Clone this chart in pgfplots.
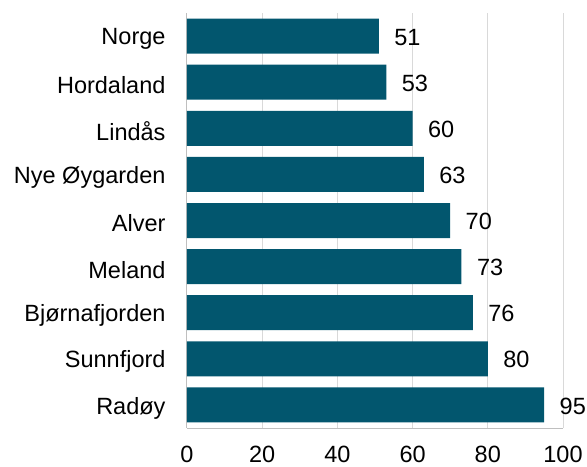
\documentclass[border=0pt]{standalone}
\usepackage{pgfplots}
\pgfplotsset{compat=1.18}
\usepackage{fontspec}
\setmainfont{Liberation Sans}
\definecolor{bar}{RGB}{2,86,110}
\definecolor{gridc}{RGB}{217,217,217}
\definecolor{axc}{RGB}{191,191,191}
\begin{document}
\begin{tikzpicture}
\useasboundingbox (-187bp,-39bp) rectangle (400bp,428bp);
\begin{axis}[
  at={(0,0)}, anchor=south west,
  scale only axis, width=376bp, height=415bp,
  xbar, bar width=35bp,
  xmin=0, xmax=100, ymin=-0.5, ymax=8.5,
  y dir=reverse,
  xtick={0,20,40,60,80,100},
  ytick={0,...,8},
  yticklabels={Norge,Hordaland,Lindås,Nye Øygarden,Alver,Meland,Bjørnafjorden,Sunnfjord,Radøy},
  major tick length=0pt,
  xmajorgrids, grid style={gridc, line width=1pt},
  axis x line*=bottom, axis y line*=left,
  axis line style={-, axc, line width=1pt},
  font=\fontsize{23.5bp}{28bp}\selectfont,
  /pgf/number format/assume math mode=true,
  xticklabel style={yshift=-15bp},
  yticklabel style={xshift=-18bp, yshift=-3bp},
  nodes near coords,
  every node near coord/.append style={anchor=west, xshift=12bp, yshift=-1bp},
  clip=false,
]
\addplot[fill=bar, draw=none] coordinates {
  (51,0) (53,1) (60,2) (63,3) (70,4) (73,5) (76,6) (80,7) (95,8)
};
\end{axis}
\end{tikzpicture}
\end{document}
